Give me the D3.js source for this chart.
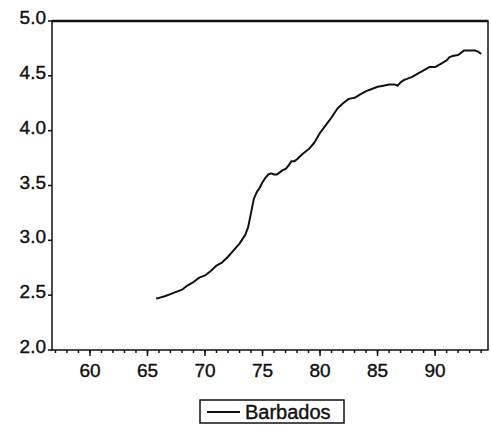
<!DOCTYPE html>
<html>
<head>
<meta charset="utf-8">
<script src="https://cdn.jsdelivr.net/npm/d3@7"></script>
<style>
  body { margin: 0; background: #fff; }
  svg { display: block; }
  text { font-family: "Liberation Sans", Arial, sans-serif; fill: #111; stroke: #111; stroke-width: 0.4px; }
</style>
</head>
<body>
<svg id="chart" width="491" height="434"></svg>
<script>
// Barbados series (year fraction, value)
const years = [65.75, 66.0, 66.5, 67.0, 67.5, 68.0, 68.5, 69.0, 69.5, 70.0,
  70.5, 71.0, 71.5, 72.0, 72.5, 73.0, 73.5, 73.75, 74.0, 74.25,
  74.5, 74.75, 75.0, 75.25, 75.5, 75.75, 76.0, 76.25, 76.5, 76.75,
  77.0, 77.25, 77.5, 77.75, 78.0, 78.5, 79.0, 79.5, 80.0, 80.5,
  81.0, 81.5, 82.0, 82.5, 83.0, 83.5, 84.0, 84.5, 85.0, 85.5,
  86.0, 86.5, 86.75, 87.0, 87.25, 87.5, 88.0, 88.5, 89.0, 89.5,
  90.0, 90.5, 91.0, 91.25, 91.5, 92.0, 92.5, 93.0, 93.5, 93.75, 94.0];
const barbados = [2.47, 2.475, 2.49, 2.51, 2.53, 2.55, 2.59, 2.62, 2.66, 2.68,
  2.72, 2.77, 2.80, 2.85, 2.91, 2.97, 3.05, 3.12, 3.25, 3.38,
  3.44, 3.48, 3.53, 3.57, 3.60, 3.61, 3.60, 3.60, 3.62, 3.64,
  3.65, 3.68, 3.72, 3.72, 3.74, 3.79, 3.83, 3.89, 3.98, 4.05,
  4.12, 4.20, 4.25, 4.29, 4.30, 4.33, 4.36, 4.38, 4.40, 4.41,
  4.42, 4.42, 4.41, 4.44, 4.46, 4.47, 4.49, 4.52, 4.55, 4.58,
  4.58, 4.61, 4.64, 4.67, 4.68, 4.69, 4.73, 4.73, 4.73, 4.72, 4.70];

const yTicks = [2.0, 2.5, 3.0, 3.5, 4.0, 4.5, 5.0];
const yTickLabels = ["2.0", "2.5", "3.0", "3.5", "4.0", "4.5", "5.0"];
const xMajor = [60, 65, 70, 75, 80, 85, 90];
const xMinor = d3.range(57, 95);
const seriesName = "Barbados";

const svg = d3.select("#chart");
const plot = { left: 52, right: 488, top: 21, bottom: 350 };

const x = d3.scaleLinear().domain([56.7, 94.6]).range([plot.left, plot.right]);
const y = d3.scaleLinear().domain([2.0, 5.0]).range([plot.bottom, plot.top]);

// frame
svg.append("rect")
  .attr("x", plot.left).attr("y", plot.top)
  .attr("width", plot.right - plot.left).attr("height", plot.bottom - plot.top)
  .attr("fill", "none").attr("stroke", "#111").attr("stroke-width", 1.5);
svg.append("line")
  .attr("x1", plot.left).attr("x2", plot.right)
  .attr("y1", plot.top).attr("y2", plot.top)
  .attr("stroke", "#111").attr("stroke-width", 2.5);

// y axis ticks and labels
svg.selectAll(".ytick").data(yTicks).enter().append("line")
  .attr("x1", plot.left - 4).attr("x2", plot.left)
  .attr("y1", d => y(d)).attr("y2", d => y(d))
  .attr("stroke", "#111").attr("stroke-width", 1.5);
svg.selectAll(".ylab").data(yTicks).enter().append("text")
  .attr("x", plot.left - 6).attr("y", d => y(d) + 3)
  .attr("text-anchor", "end")
  .attr("font-size", "19px")
  .text((d, i) => yTickLabels[i]);

// x axis ticks and labels
svg.selectAll(".xminor").data(xMinor).enter().append("line")
  .attr("x1", d => x(d)).attr("x2", d => x(d))
  .attr("y1", plot.bottom).attr("y2", plot.bottom + 3)
  .attr("stroke", "#111").attr("stroke-width", 1.5);
svg.selectAll(".xmajor").data(xMajor).enter().append("line")
  .attr("x1", d => x(d)).attr("x2", d => x(d))
  .attr("y1", plot.bottom).attr("y2", plot.bottom + 6)
  .attr("stroke", "#111").attr("stroke-width", 1.5);
svg.selectAll(".xlab").data(xMajor).enter().append("text")
  .attr("x", d => x(d)).attr("y", plot.bottom + 27)
  .attr("text-anchor", "middle")
  .attr("font-size", "19px")
  .text(d => d);

// series line
const line = d3.line()
  .x((d, i) => x(years[i]))
  .y(d => y(d));
svg.append("path")
  .datum(barbados)
  .attr("d", line)
  .attr("fill", "none")
  .attr("stroke", "#111")
  .attr("stroke-width", 2)
  .attr("stroke-linejoin", "round");

// legend
const legend = svg.append("g").attr("transform", "translate(200,400)");
legend.append("rect")
  .attr("width", 144).attr("height", 23)
  .attr("fill", "#fff").attr("stroke", "#111").attr("stroke-width", 1.5);
legend.append("line")
  .attr("x1", 7).attr("x2", 40).attr("y1", 12).attr("y2", 12)
  .attr("stroke", "#111").attr("stroke-width", 2);
legend.append("text")
  .attr("x", 45).attr("y", 19)
  .attr("font-size", "20px")
  .text(seriesName);
</script>
</body>
</html>
